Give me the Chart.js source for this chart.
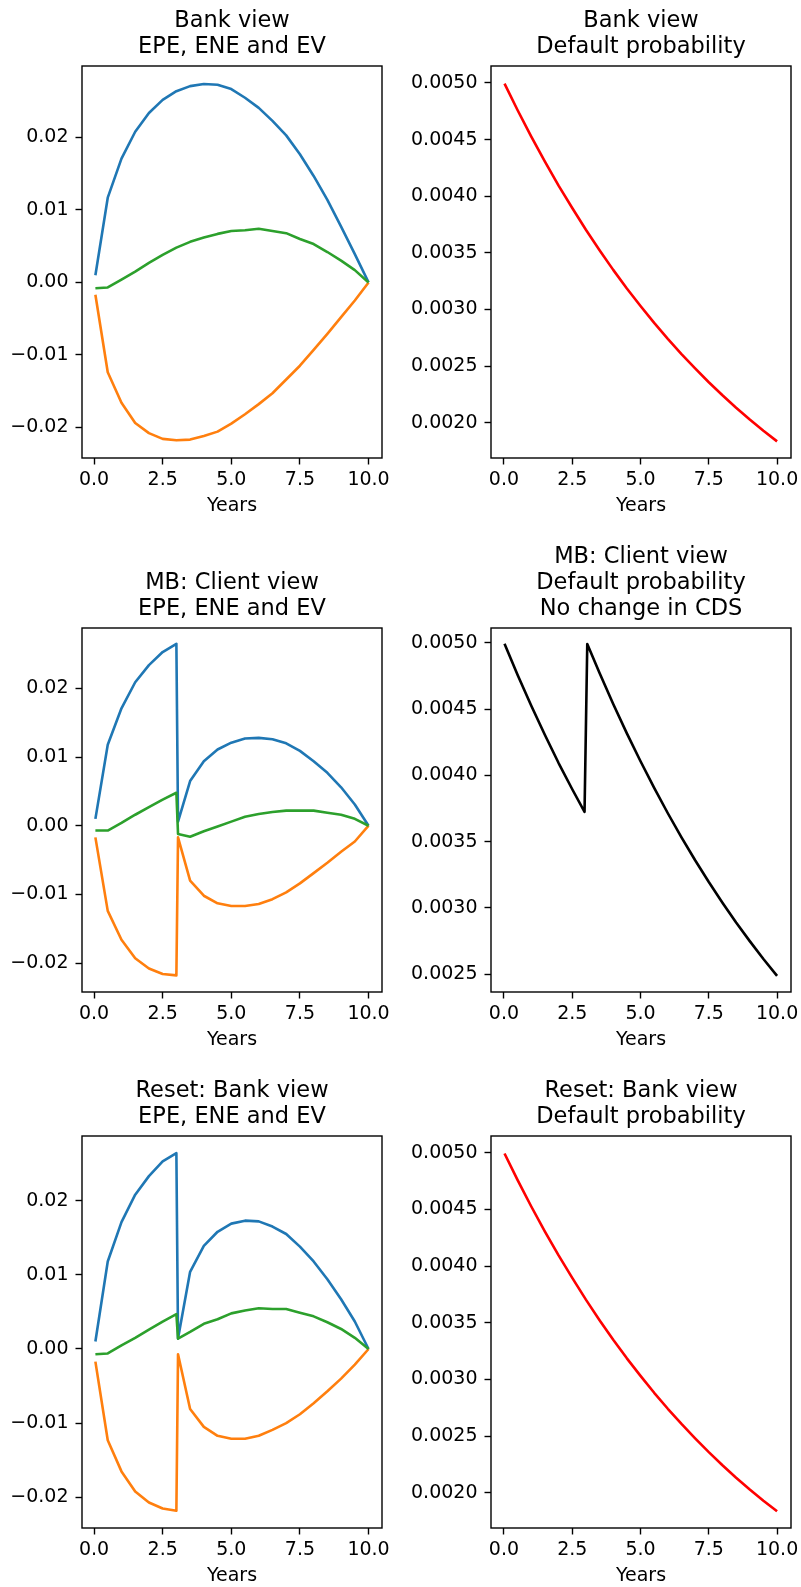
<!DOCTYPE html>
<html>
<head>
<meta charset="utf-8">
<script src="https://cdn.jsdelivr.net/npm/chart.js@4.4.0/dist/chart.umd.min.js"></script>
<style>
  html, body { margin: 0; padding: 0; background: #fff; overflow: hidden; }
  .panel { position: absolute; }
</style>
</head>
<body>
<div class="panel" style="left:0;top:8px;width:392px;height:509px"><canvas id="c1"></canvas></div>
<div class="panel" style="left:391px;top:8px;width:410px;height:509px"><canvas id="c2"></canvas></div>
<div class="panel" style="left:0;top:570px;width:392px;height:481px"><canvas id="c3"></canvas></div>
<div class="panel" style="left:391px;top:544px;width:410px;height:507px"><canvas id="c4"></canvas></div>
<div class="panel" style="left:0;top:1078px;width:392px;height:509px"><canvas id="c5"></canvas></div>
<div class="panel" style="left:391px;top:1078px;width:410px;height:509px"><canvas id="c6"></canvas></div>
<script>
// time grids (years)
const tGrid = [0.05, 0.5, 1, 1.5, 2, 2.5, 3, 3.5, 4, 4.5, 5, 5.5, 6, 6.5, 7, 7.5, 8, 8.5, 9, 9.5, 10];
const tReset = [0.05, 0.5, 1, 1.5, 2, 2.5, 3, 3.06, 3.5, 4, 4.5, 5, 5.5, 6, 6.5, 7, 7.5, 8, 8.5, 9, 9.5, 10];
const tPD = [0.02, 0.5, 1, 1.5, 2, 2.5, 3, 3.5, 4, 4.5, 5, 5.5, 6, 6.5, 7, 7.5, 8, 8.5, 9, 9.5, 10];
const tPDmb = [0.02, 0.5, 1, 1.5, 2, 2.5, 2.95, 3.05, 3.5, 4, 4.5, 5, 5.5, 6, 6.5, 7, 7.5, 8, 8.5, 9, 9.5, 10];

// Bank view
const bankEPE = [0.0010, 0.0117, 0.0171, 0.0208, 0.0234, 0.0252, 0.0264, 0.0271, 0.0274, 0.0273, 0.0267, 0.0255, 0.0241, 0.0223, 0.0203, 0.0177, 0.0147, 0.0114, 0.0077, 0.0039, 0];
const bankENE = [-0.0017, -0.0124, -0.0166, -0.0194, -0.0208, -0.0216, -0.0218, -0.0217, -0.0212, -0.0206, -0.0195, -0.0182, -0.0168, -0.0153, -0.0134, -0.0115, -0.0093, -0.0071, -0.0048, -0.0025, 0];
const bankEV = [-0.0008, -0.0007, 0.0004, 0.0015, 0.0027, 0.0038, 0.0048, 0.0056, 0.0062, 0.0067, 0.0071, 0.0072, 0.0074, 0.0071, 0.0068, 0.0060, 0.0053, 0.0042, 0.0030, 0.0017, 0];

// MB: client view
const mbEPE = [0.0010, 0.0118, 0.0171, 0.0209, 0.0234, 0.0253, 0.0265, 0.0006, 0.0065, 0.0094, 0.0111, 0.0121, 0.0127, 0.0128, 0.0126, 0.0120, 0.0109, 0.0094, 0.0077, 0.0056, 0.0031, 0];
const mbENE = [-0.0017, -0.0124, -0.0166, -0.0193, -0.0208, -0.0216, -0.0218, -0.0017, -0.0080, -0.0102, -0.0113, -0.0117, -0.0117, -0.0114, -0.0107, -0.0097, -0.0084, -0.0069, -0.0054, -0.0038, -0.0023, 0];
const mbEV = [-0.0007, -0.0007, 0.0004, 0.0016, 0.0027, 0.0038, 0.0048, -0.0012, -0.0016, -0.0008, -0.0001, 0.0006, 0.0013, 0.0017, 0.0020, 0.0022, 0.0022, 0.0022, 0.0019, 0.0016, 0.0010, 0];

// Reset: bank view
const rsEPE = [0.0010, 0.0118, 0.0171, 0.0208, 0.0233, 0.0253, 0.0264, 0.0014, 0.0104, 0.0139, 0.0158, 0.0169, 0.0173, 0.0172, 0.0165, 0.0155, 0.0138, 0.0118, 0.0094, 0.0067, 0.0037, 0];
const rsENE = [-0.0017, -0.0123, -0.0165, -0.0192, -0.0207, -0.0215, -0.0218, -0.0007, -0.0081, -0.0105, -0.0117, -0.0121, -0.0121, -0.0117, -0.0109, -0.0100, -0.0088, -0.0073, -0.0057, -0.0040, -0.0021, 0];
const rsEV = [-0.0007, -0.0006, 0.0005, 0.0015, 0.0026, 0.0037, 0.0047, 0.0014, 0.0023, 0.0034, 0.0040, 0.0048, 0.0052, 0.0055, 0.0054, 0.0054, 0.0049, 0.0044, 0.0036, 0.0027, 0.0015, 0];

// default probabilities
const pdBank = [0.004994, 0.004759, 0.004526, 0.004305, 0.004094, 0.003896, 0.003704, 0.003523, 0.003350, 0.003186, 0.003031, 0.002882, 0.002741, 0.002607, 0.002480, 0.002358, 0.002243, 0.002133, 0.002029, 0.001930, 0.001836];
const pdClient = [0.004994, 0.004759, 0.004526, 0.004305, 0.004094, 0.003896, 0.003726, 0.004992, 0.004774, 0.004540, 0.004318, 0.004107, 0.003906, 0.003715, 0.003533, 0.003360, 0.003196, 0.003040, 0.002891, 0.002750, 0.002615, 0.002488];

// tick labels
const xTicks = [0, 2.5, 5, 7.5, 10];
const exposureTicks = [-0.02, -0.01, 0, 0.01, 0.02];
const pdTicks = [0.002, 0.0025, 0.003, 0.0035, 0.004, 0.0045, 0.005];
const pdTicksMB = [0.0025, 0.003, 0.0035, 0.004, 0.0045, 0.005];

Chart.defaults.font.family = 'DejaVu Sans';
Chart.defaults.color = '#000';

const frame = {
  id: 'frame',
  afterDatasetsDraw(chart) {
    const {ctx, chartArea: a} = chart;
    ctx.save();
    ctx.strokeStyle = '#000';
    ctx.lineWidth = 1.4;
    ctx.strokeRect(a.left, a.top, a.right - a.left, a.bottom - a.top);
    ctx.restore();
  }
};

const pts = (xs, ys) => xs.map((x, i) => ({x: x, y: ys[i]}));

function line(xs, ys, color, order) {
  return {
    data: pts(xs, ys),
    borderColor: color,
    borderWidth: 2.6,
    pointRadius: 0,
    tension: 0,
    borderJoinStyle: 'round',
    order: order
  };
}

const tickGrid = {display: true, drawOnChartArea: false, drawTicks: true, tickLength: 6.5, tickColor: '#000', tickWidth: 1.4};

function makePanel(id, title, datasets, yw, xr, yr, yt, digits) {
  new Chart(document.getElementById(id), {
    type: 'line',
    data: {datasets: datasets},
    options: {
      responsive: true,
      maintainAspectRatio: false,
      animation: false,
      layout: {padding: {left: 0, top: 0, right: 10, bottom: 0}},
      plugins: {
        legend: {display: false},
        tooltip: {enabled: false},
        title: {
          display: true,
          text: title,
          fullSize: false,
          color: '#000',
          font: {size: 22.5, weight: 'normal', lineHeight: '26px'},
          padding: {top: 0, bottom: 6}
        }
      },
      scales: {
        x: {
          type: 'linear',
          min: xr[0],
          max: xr[1],
          afterBuildTicks: s => { s.ticks = xTicks.map(v => ({value: v})); },
          afterFit: s => { s.height = 59; s.paddingLeft = 0; s.paddingRight = 0; },
          ticks: {callback: v => v.toFixed(1), font: {size: 19}, padding: 4.5, maxRotation: 0, autoSkip: false},
          grid: tickGrid,
          border: {display: false},
          title: {display: true, text: 'Years', font: {size: 19}, padding: {top: 0, bottom: 0}}
        },
        y: {
          type: 'linear',
          min: yr[0],
          max: yr[1],
          afterBuildTicks: s => { s.ticks = yt.map(v => ({value: v})); },
          afterFit: s => { s.width = yw; s.paddingTop = 0; s.paddingBottom = 0; },
          ticks: {callback: v => v.toFixed(digits).replace('-', '\u2212'), font: {size: 19}, padding: 7, autoSkip: false},
          grid: tickGrid,
          border: {display: false}
        }
      }
    },
    plugins: [frame]
  });
}

const leftX = [-0.438, 10.49];
const rightX = [-0.475, 10.51];

makePanel('c1', ['Bank view', 'EPE, ENE and EV'], [
  line(tGrid, bankEPE, '#1f77b4', 3),
  line(tGrid, bankENE, '#ff7f0e', 2),
  line(tGrid, bankEV, '#2ca02c', 1)
], 82, leftX, [-0.02424, 0.02988], exposureTicks, 2);

makePanel('c2', ['Bank view', 'Default probability'], [
  line(tPD, pdBank, '#ff0000', 1)
], 100, rightX, [0.001689, 0.005150], pdTicks, 4);

makePanel('c3', ['MB: Client view', 'EPE, ENE and EV'], [
  line(tReset, mbEPE, '#1f77b4', 3),
  line(tReset, mbENE, '#ff7f0e', 2),
  line(tReset, mbEV, '#2ca02c', 1)
], 82, leftX, [-0.02422, 0.02880], exposureTicks, 2);

makePanel('c4', ['MB: Client view', 'Default probability', 'No change in CDS'], [
  line(tPDmb, pdClient, '#000000', 1)
], 100, rightX, [0.002366, 0.005113], pdTicksMB, 4);

makePanel('c5', ['Reset: Bank view', 'EPE, ENE and EV'], [
  line(tReset, rsEPE, '#1f77b4', 3),
  line(tReset, rsENE, '#ff7f0e', 2),
  line(tReset, rsEV, '#2ca02c', 1)
], 82, leftX, [-0.02413, 0.02871], exposureTicks, 2);

makePanel('c6', ['Reset: Bank view', 'Default probability'], [
  line(tPD, pdBank, '#ff0000', 1)
], 100, rightX, [0.001689, 0.005148], pdTicks, 4);
</script>
</body>
</html>
